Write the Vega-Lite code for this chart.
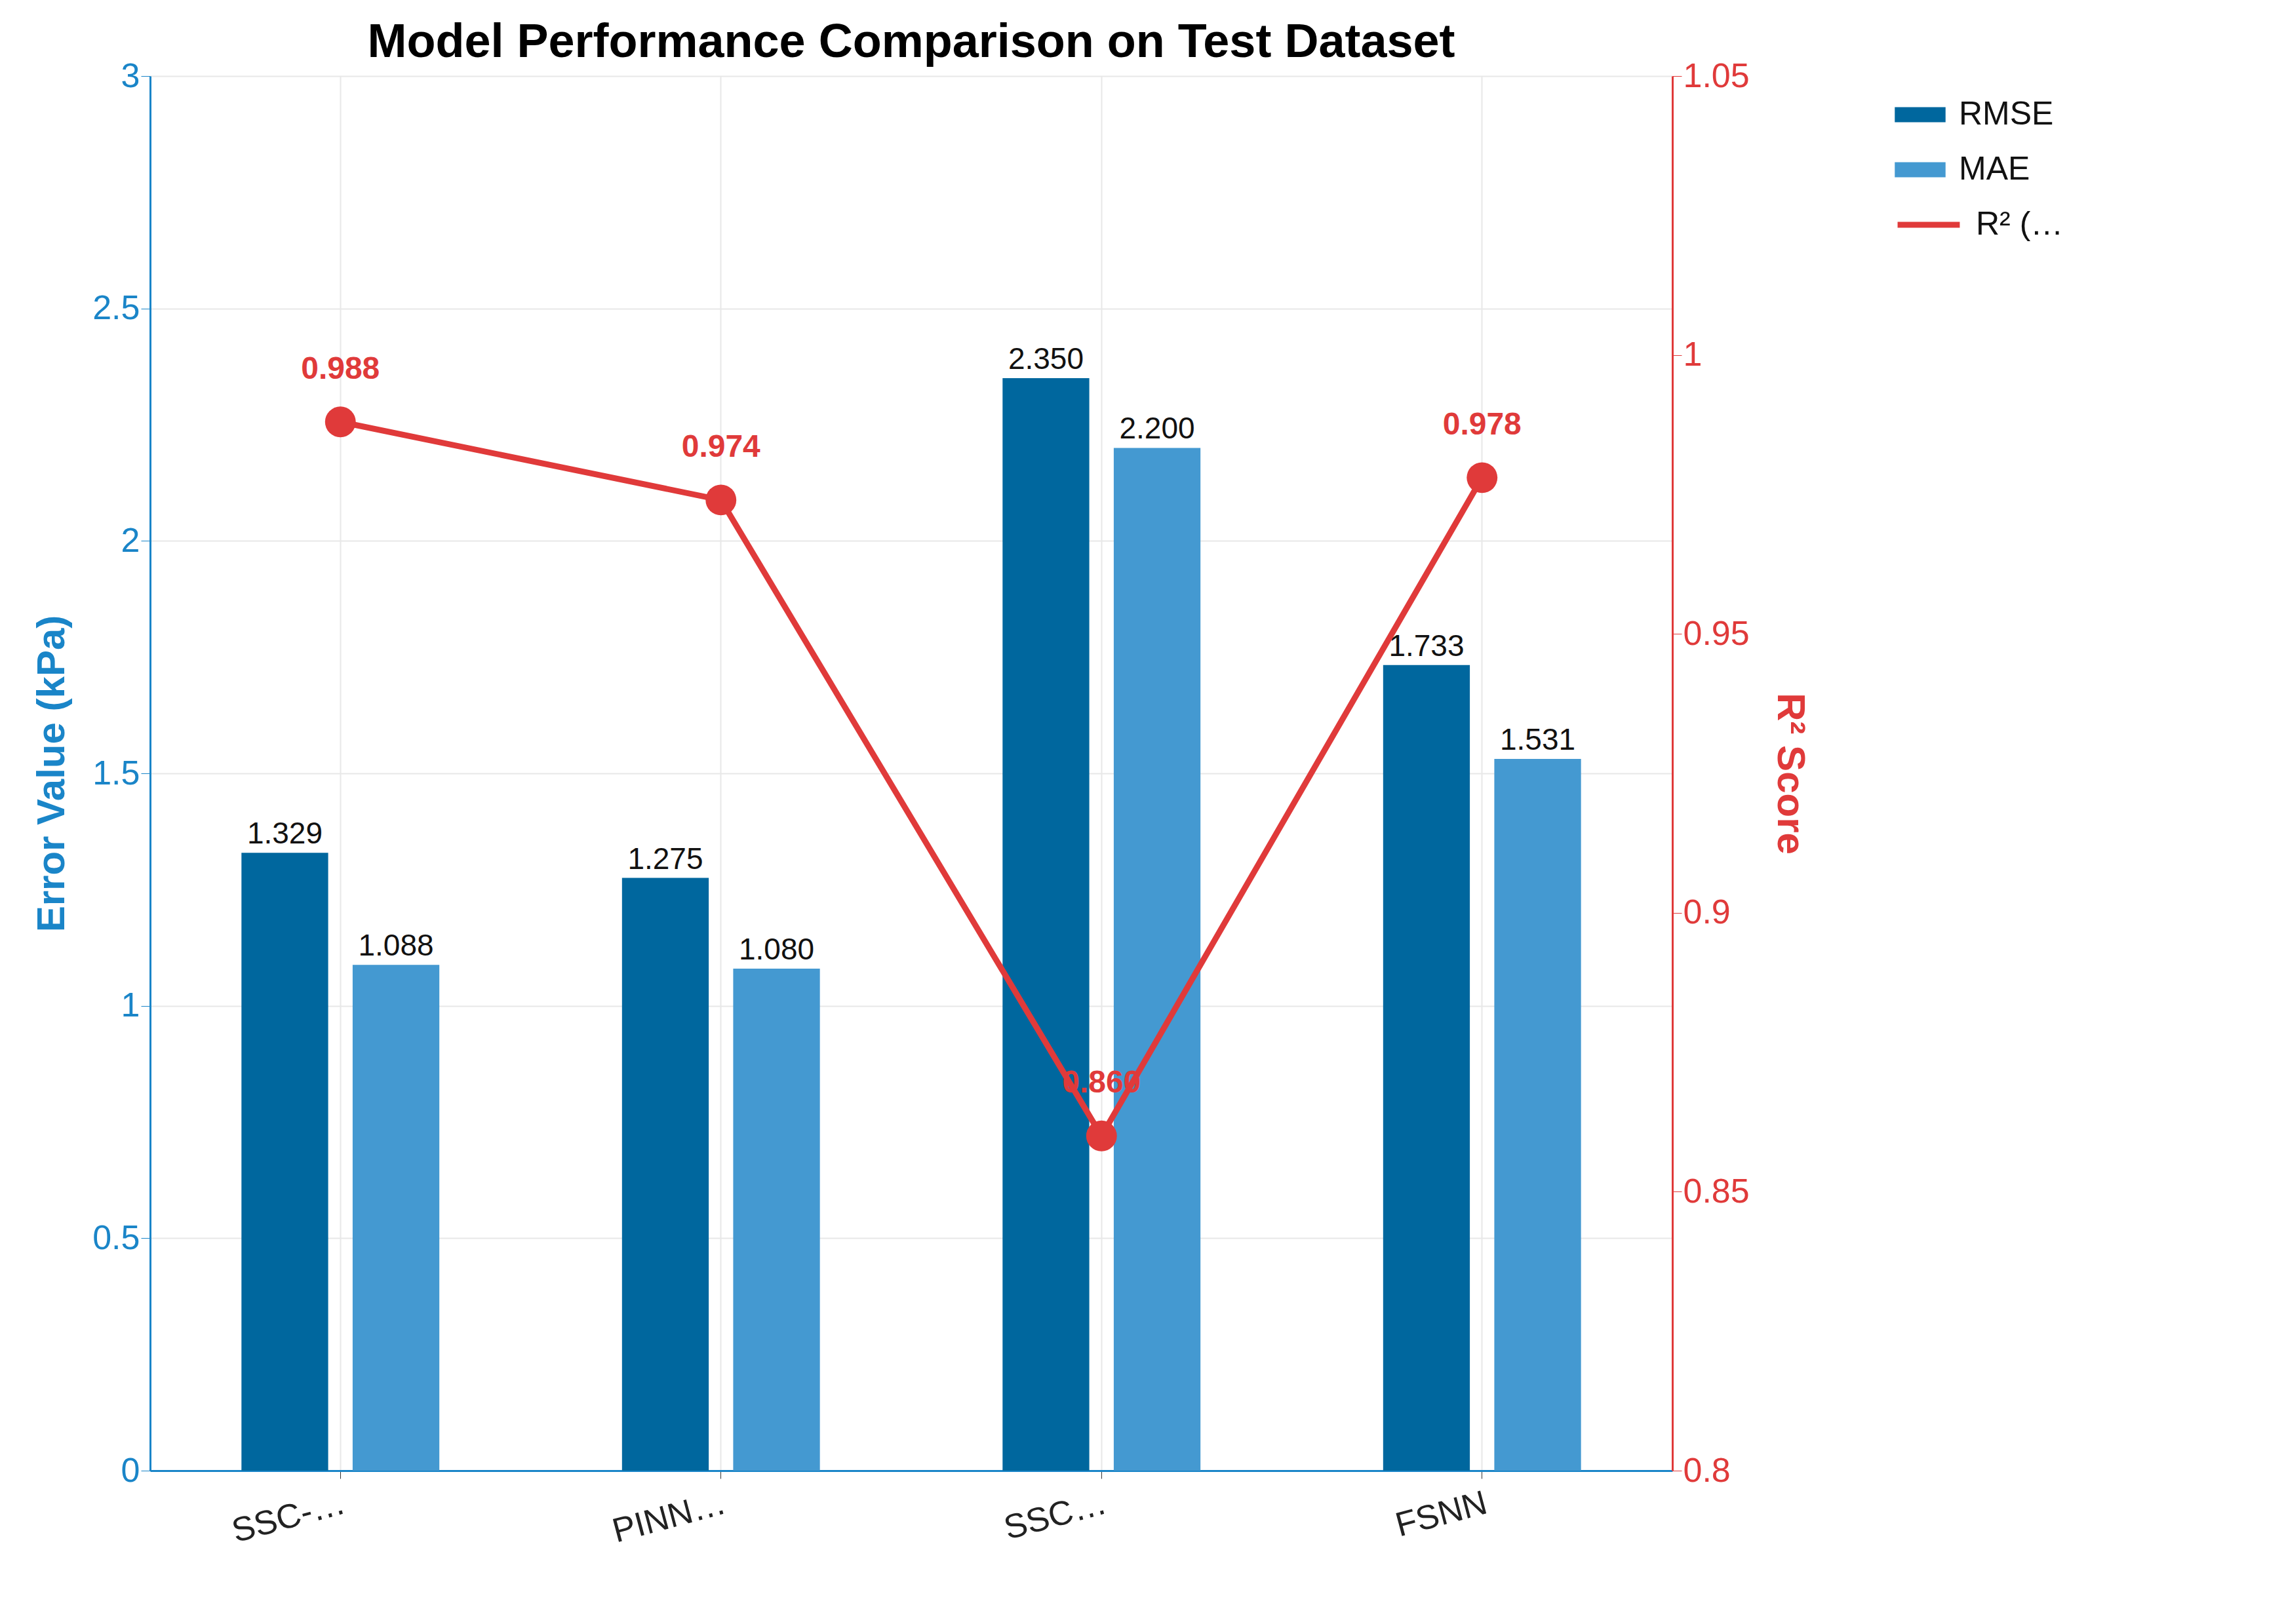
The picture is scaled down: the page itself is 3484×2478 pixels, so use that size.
{
"$schema":"https://vega.github.io/schema/vega-lite/v6.json",
"width":2322,"height":2128,
"autosize":{"type":"none"},
"padding":{"left":229,"top":116,"right":933,"bottom":234},
"background":"white",
"config":{"font":"Liberation Sans","view":{"stroke":null}},
"title":{"text":"Model Performance Comparison on Test Dataset","fontSize":72,"fontWeight":"bold","color":"#000","offset":-12},
"data":{"values":[
{"model":"SSC-PINN","RMSE":1.329,"MAE":1.088,"r2":0.988},
{"model":"PINN (Phy Only)","RMSE":1.275,"MAE":1.080,"r2":0.974},
{"model":"SSCL Only","RMSE":2.350,"MAE":2.200,"r2":0.860},
{"model":"FSNN","RMSE":1.733,"MAE":1.531,"r2":0.978}
]},
"encoding":{"x":{"field":"model","type":"nominal","sort":null,
 "scale":{"paddingInner":0.48,"paddingOuter":0.24},
 "axis":{"title":null,"labelAngle":-15,"labelFontSize":52,"labelColor":"#222","domainColor":"#1a85c8","domainWidth":3,"tickColor":"#333","tickSize":12,"grid":true,"gridColor":"#e8e8e8","gridWidth":2,"bandPosition":0.5,"labelPadding":12,"labelBaseline":"top"}}},
"layer":[
{"transform":[{"fold":["RMSE","MAE"],"as":["metric","val"]}],
 "encoding":{"y":{"field":"val","type":"quantitative","scale":{"domain":[0,3]},
   "axis":{"title":"Error Value (kPa)","titleFontSize":60,"titleColor":"#1a85c8","titleFontWeight":"bold","labelFontSize":52,"labelColor":"#1a85c8","domainColor":"#1a85c8","domainWidth":3,"tickColor":"#1a85c8","tickSize":14,"values":[0,0.5,1,1.5,2,2.5,3],"format":"~g","gridColor":"#e8e8e8","gridWidth":2,"titlePadding":30}},
  "xOffset":{"field":"metric","type":"nominal","sort":["RMSE","MAE"],"scale":{"paddingInner":0.22}}},
 "layer":[
  {"mark":{"type":"bar"},
   "encoding":{"color":{"field":"metric","type":"nominal","sort":["RMSE","MAE"],"scale":{"domain":["RMSE","MAE"],"range":["#00679e","#4499d1"]},
    "legend":{"title":null,"orient":"none","legendX":2661,"legendY":20,"labelFontSize":50,"labelColor":"#111","symbolType":"M-1,-0.3H1V0.3H-1Z","symbolSize":6000,"symbolStrokeWidth":0,"rowPadding":20,"labelOffset":20}}}},
  {"mark":{"type":"text","baseline":"bottom","dy":-4,"fontSize":46,"color":"#111"},
   "encoding":{"text":{"field":"val","type":"quantitative","format":".3f"}}}
 ]},
{"encoding":{"y":{"field":"r2","type":"quantitative","scale":{"domain":[0.8,1.05]},
   "axis":{"orient":"right","title":"R² Score","titleFontSize":60,"titleColor":"#e03a3a","titleFontWeight":"bold","labelFontSize":52,"labelColor":"#e03a3a","domainColor":"#e03a3a","domainWidth":3,"tickColor":"#e03a3a","tickSize":14,"grid":false,"values":[0.8,0.85,0.9,0.95,1,1.05],"format":"~g","titlePadding":30}}},
 "layer":[
  {"mark":{"type":"line","strokeWidth":9,"color":"#e03a3a"},
   "encoding":{"stroke":{"datum":"R² (Right Axis)","type":"nominal","scale":{"range":["#e03a3a"]},
    "legend":{"title":null,"orient":"none","legendX":2661,"legendY":175,"labelFontSize":50,"labelColor":"#111","symbolType":"stroke","symbolSize":9000,"symbolStrokeWidth":9,"labelOffset":20}}}},
  {"mark":{"type":"point","filled":true,"size":2200,"color":"#e03a3a","opacity":1},"encoding":{}},
  {"mark":{"type":"text","dy":-80,"fontSize":48,"fontWeight":"bold","color":"#e03a3a"},
   "encoding":{"text":{"field":"r2","type":"quantitative","format":".3f"}}}
 ]}
],
"resolve":{"scale":{"y":"independent","color":"independent"}}
}
